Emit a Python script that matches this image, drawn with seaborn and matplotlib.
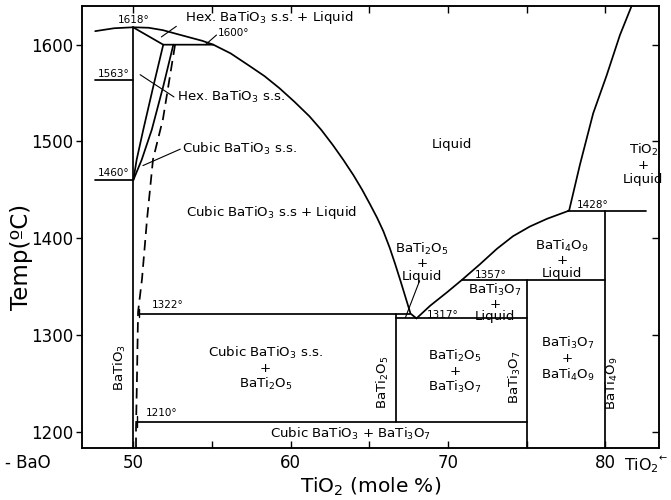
import matplotlib
matplotlib.use("Agg")
import matplotlib.pyplot as plt
import seaborn as sns

# ---- BaO-TiO2 phase diagram: composition in mole % TiO2, temperature in degrees C ----

# liquidus on the BaTiO3 side, from the BaO-rich edge down to the BaTi2O5 eutectic
liq_left_x = [47.6, 48.8, 50.0, 51.0, 51.9, 52.8, 53.6, 54.4, 55.1, 56.2, 57.4,
              58.35, 59.3, 60.25, 61.2, 61.95, 62.7, 63.35, 64.0, 64.55, 65.05,
              65.5, 65.9, 66.3, 66.65, 67.0, 67.3, 67.62, 68.0]
liq_left_t = [1614, 1617, 1618, 1617.5, 1615, 1611, 1607.5, 1604, 1600, 1591, 1578,
              1567.5, 1555, 1541, 1526, 1512, 1496, 1481, 1465, 1450, 1435,
              1421, 1407, 1390, 1373, 1355, 1339, 1322, 1317]

# liquidus from the eutectic up to the BaTi4O9 peritectic
liq_right_x = [68.0, 68.86, 69.94, 70.9, 72.03, 73.11, 74.13, 75.2, 76.29, 77.62]
liq_right_t = [1317, 1330, 1344, 1357, 1373, 1389, 1402, 1412, 1420, 1428]

# TiO2 liquidus
liq_tio2_x = [77.62, 77.70, 78.38, 79.22, 80.07, 80.92, 81.66]
liq_tio2_t = [1428, 1429, 1476, 1529, 1568, 1610, 1640]

# lower boundary of the hexagonal s.s. + liquid field
hex_liq_x = [50.0, 51.92, 55.1]
hex_liq_t = [1618, 1600, 1600]

# hexagonal BaTiO3 solid-solution boundaries
hex_a_x = [51.92, 51.29, 50.65, 50.23, 50.02]
hex_a_t = [1600, 1557, 1512, 1481, 1460]
hex_b_x = [52.56, 51.92, 51.19, 50.55, 50.02]
hex_b_t = [1600, 1557, 1512, 1481, 1460]

# cubic BaTiO3 solid-solution limit (dashed)
cubic_x = [52.67, 51.9, 51.27, 51.08, 50.89, 50.57, 50.32, 50.25, 50.19, 50.19]
cubic_t = [1600, 1523, 1481.5, 1450.5, 1419.6, 1357.7, 1323.7, 1254.6, 1203, 1183]

# invariant isotherms: temperature, start and end composition
iso_temp = [1563, 1460, 1322, 1317, 1357, 1428, 1210]
iso_from = [47.6, 47.6, 50.4, 66.67, 70.9, 77.62, 50.25]
iso_to = [50.0, 50.0, 67.62, 75.0, 80.0, 82.6, 75.0]

# compound lines: composition, upper and lower temperature
comp_x = [50.0, 66.67, 75.0, 80.0]
comp_top = [1618, 1322, 1357, 1428]
comp_bottom = [1183, 1210, 1183, 1183]
comp_names = ["BaTiO$_3$", "BaTi$_2$O$_5$", "BaTi$_3$O$_7$", "BaTi$_4$O$_9$"]
comp_label_x = [49.2, 65.87, 74.25, 80.4]
comp_label_t = [1266, 1251, 1256, 1250]

# temperature annotations
temp_text = ["1618°", "1600°", "1563°", "1460°", "1322°", "1317°", "1357°", "1428°", "1210°"]
temp_x = [50.05, 56.4, 48.75, 48.75, 52.2, 69.65, 72.7, 79.2, 51.8]
temp_t = [1626, 1612, 1570, 1467, 1331, 1320, 1362, 1434, 1219]

x_ticks = [50, 60, 70, 80]
y_ticks = [1200, 1300, 1400, 1500, 1600]

sns.set_theme(style="ticks")
plt.rcParams["font.family"] = ["DejaVu Sans"]
plt.rcParams["mathtext.fontset"] = "dejavusans"
plt.rcParams["text.color"] = "black"
plt.rcParams["axes.labelcolor"] = "black"

fig = plt.figure(figsize=(6.71, 5.0), dpi=100)
ax = fig.add_axes([82 / 671, 1 - 448 / 500, 577 / 671, 442 / 500])

LW = 1.25


def curve(x, t, dashed=False, lw=LW):
    kw = dict(linestyle=(0, (6, 3.5))) if dashed else {}
    sns.lineplot(x=x, y=t, sort=False, estimator=None, color="black",
                 lw=lw, ax=ax, **kw)


curve(liq_left_x, liq_left_t)
curve(liq_right_x, liq_right_t)
curve(liq_tio2_x, liq_tio2_t)
curve(hex_liq_x, hex_liq_t)
curve(hex_a_x, hex_a_t)
curve(hex_b_x, hex_b_t)
curve(cubic_x, cubic_t, dashed=True)

for t, a, b in zip(iso_temp, iso_from, iso_to):
    curve([a, b], [t, t])

for x, top, bot in zip(comp_x, comp_top, comp_bottom):
    curve([x, x], [top, bot])

# short ticks where the dashed limit meets the lower isotherms
curve([50.4, 50.4], [1318, 1327], lw=1.0)
curve([50.25, 50.25], [1205, 1216], lw=1.0)

# leader lines from field labels
leaders = [
    ([52.75, 51.8], [1619, 1608]),
    ([55.3, 54.6], [1610, 1600]),
    ([52.6, 50.45], [1546, 1569]),
    ([53.0, 50.63], [1492, 1475]),
    ([68.2, 67.3], [1356, 1318]),
]
for lx, lt in leaders:
    curve(lx, lt, lw=0.8)

FS = 9.6
for s, x, t in zip(temp_text, temp_x, temp_t):
    ax.text(x, t, s, fontsize=7.5, ha="center", va="center")

for s, x, t in zip(comp_names, comp_label_x, comp_label_t):
    ax.text(x, t, s, fontsize=FS, rotation=90, ha="center", va="center")

ax.text(53.3, 1628, "Hex. BaTiO$_3$ s.s. + Liquid", fontsize=FS, ha="left", va="center")
ax.text(52.8, 1546, "Hex. BaTiO$_3$ s.s.", fontsize=FS, ha="left", va="center")
ax.text(53.1, 1492, "Cubic BaTiO$_3$ s.s.", fontsize=FS, ha="left", va="center")
ax.text(58.8, 1427, "Cubic BaTiO$_3$ s.s + Liquid", fontsize=FS, ha="center", va="center")
ax.text(70.25, 1497, "Liquid", fontsize=FS, ha="center", va="center")
ax.text(82.4, 1477, "TiO$_2$\n+\nLiquid", fontsize=FS, ha="center", va="center", linespacing=1.1)
ax.text(68.35, 1375, "BaTi$_2$O$_5$\n+\nLiquid", fontsize=FS, ha="center", va="center", linespacing=1.0)
ax.text(77.25, 1378, "BaTi$_4$O$_9$\n+\nLiquid", fontsize=FS, ha="center", va="center", linespacing=1.0)
ax.text(73.0, 1333, "BaTi$_3$O$_7$\n+\nLiquid", fontsize=FS, ha="center", va="center", linespacing=0.95)
ax.text(77.6, 1275, "BaTi$_3$O$_7$\n+\nBaTi$_4$O$_9$", fontsize=FS, ha="center", va="center", linespacing=1.1)
ax.text(70.45, 1262, "BaTi$_2$O$_5$\n+\nBaTi$_3$O$_7$", fontsize=FS, ha="center", va="center", linespacing=1.1)
ax.text(58.4, 1265, "Cubic BaTiO$_3$ s.s.\n+\nBaTi$_2$O$_5$", fontsize=FS, ha="center", va="center", linespacing=1.1)
ax.text(63.8, 1198, "Cubic BaTiO$_3$ + BaTi$_3$O$_7$", fontsize=FS, ha="center", va="center")

ax.set_xlim(46.76, 83.4)
ax.set_ylim(1183, 1640)
ax.set_xticks(x_ticks)
ax.set_xticks([55, 65, 75], minor=True)
ax.set_yticks(y_ticks)
ax.tick_params(axis="x", which="both", direction="in", top=True, length=5,
               width=1, labelsize=12, pad=4, colors="black")
ax.tick_params(axis="y", direction="out", length=4, width=1, labelsize=12,
               pad=2, colors="black")

ax_r = ax.twinx()
ax_r.set_ylim(ax.get_ylim())
ax_r.set_yticks(y_ticks)
ax_r.tick_params(axis="y", direction="in", length=5, width=1, labelright=False,
                 colors="black")

for a in (ax, ax_r):
    for sp in a.spines.values():
        sp.set_visible(True)
        sp.set_color("black")
        sp.set_linewidth(1.1)

ax.set_xlabel("TiO$_2$ (mole %)", fontsize=14.5)
ax.xaxis.set_label_coords(0.5, (448 - 476) / 442)
ax.set_ylabel("Temp(ºC)", fontsize=16.5)
ax.yaxis.set_label_coords((33 - 82) / 577, (448 - 257) / 442)

fig.text(5 / 671, 1 - 463 / 500, "- BaO", fontsize=12, ha="left", va="center")
fig.text(624 / 671, 1 - 466 / 500, "TiO$_2$", fontsize=11.5, ha="left", va="center")
fig.text(659 / 671, 1 - 458 / 500, "\u2190", fontsize=7, ha="left", va="center")

fig.savefig("out.png", dpi=100)
